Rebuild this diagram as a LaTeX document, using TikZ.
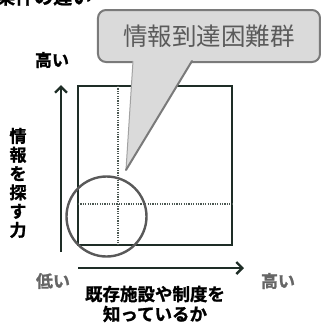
\documentclass[tikz,border=0pt]{standalone}
\usepackage{fontspec}
\setmainfont{Noto Sans CJK JP}
\newfontfamily\jpb{Noto Sans CJK JP Bold}[FakeBold=1.2]
\usetikzlibrary{arrows.meta}
\definecolor{dk}{HTML}{1E2D26}
\definecolor{cgray}{HTML}{DADADA}
\definecolor{cbord}{HTML}{7A7A7A}
\definecolor{txtg}{HTML}{5A5A5A}
\tikzset{
  frame/.style={draw=dk,line width=2pt},
  dotline/.style={draw=dk!80,line width=1.3pt,dash pattern=on 1.2pt off 1.2pt},
  axis/.style={draw=dk,line width=2.6pt,-{Straight Barb[length=6pt,width=12pt,line width=2.4pt]}},
  ring/.style={draw=black!65,line width=2.4pt},
  lbl/.style={font=\jpb\fontsize{17}{18}\selectfont,inner sep=0pt},
  glbl/.style={font=\jpb\fontsize{17}{18}\selectfont,text=black!60,inner sep=0pt},
}
\begin{document}
\begin{tikzpicture}[x=1pt,y=-1pt]
\useasboundingbox (0,0) rectangle (323,325);
\clip (0,0) rectangle (323,325);
% truncated heading
\node[lbl,anchor=base west,font=\jpb\fontsize{19}{20}\selectfont] (head) at (-4,4) {条件の違い};
% frame
\node[frame,minimum width=154pt,minimum height=159pt,inner sep=0pt] (sq) at (155,165.5) {};
\coordinate (vt) at (118,86);
\coordinate (vb) at (118,245);
\coordinate (hl) at (78,204);
\coordinate (hr) at (232,204);
\draw[dotline] (vt) -- (vb);
\draw[dotline] (hl) -- (hr);
% circle
\node[ring,circle,minimum size=80pt,inner sep=0pt] (circ) at (106.5,216.5) {};
% axes
\coordinate (yb) at (61,252);
\coordinate (yt) at (61,85);
\coordinate (xl) at (78,268);
\coordinate (xr) at (244,268);
\draw[axis] (yb) -- (yt);
\draw[axis] (xl) -- (xr);
% callout
\node[draw=cbord,fill=cgray,line width=2pt,rounded corners=8pt,minimum width=222pt,minimum height=52pt,inner sep=0pt,
  font=\fontsize{24.5}{26}\selectfont,text=txtg] (call) at (209,36) {情報到達困難群};
\coordinate (tailL) at (133,61);
\coordinate (tailR) at (192,61);
\coordinate (tip) at (126,170);
\fill[cgray] (tailL) -- (tip) -- (tailR) -- cycle;
\draw[cbord!70,line width=1pt] (tailL) -- (tip);
\draw[cbord,line width=2pt,line cap=round] (tailR) -- (tip);
% labels
\node[lbl] (hiY) at (52,60) {高い};
\node[glbl] (lo) at (53,281) {低い};
\node[glbl] (hiX) at (278,281) {高い};
\node[lbl,align=center,font=\jpb\fontsize{17}{18.8}\selectfont] (ylab) at (18,183) {情\\報\\を\\探\\す\\力};
\node[lbl,align=center,font=\jpb\fontsize{17.5}{20}\selectfont] (xlab) at (155,304) {既存施設や制度を\\知っているか};
\end{tikzpicture}
\end{document}
